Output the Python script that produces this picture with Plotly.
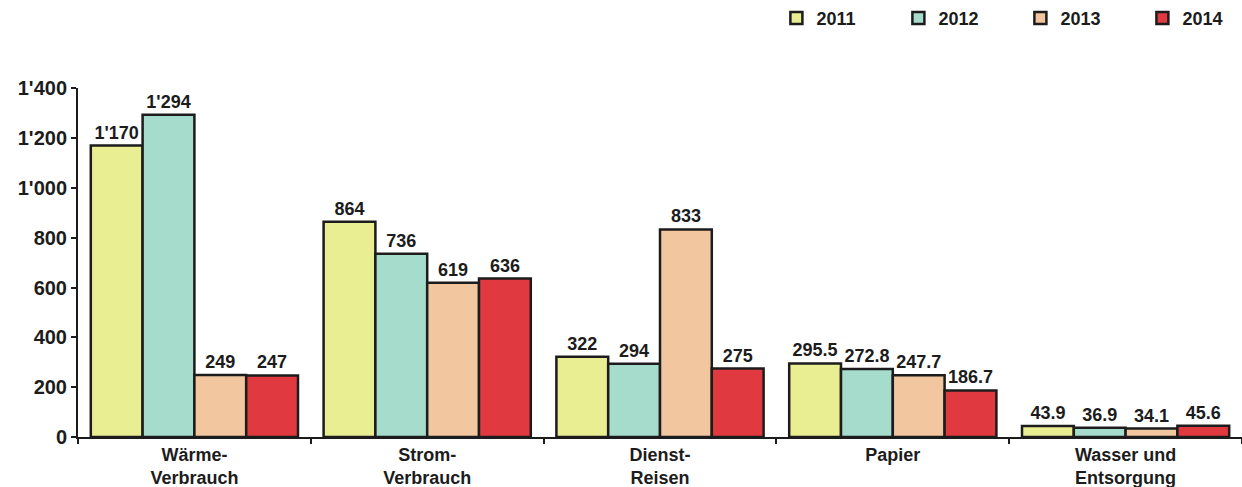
import plotly.graph_objects as go

categories = ["Wärme-<br>Verbrauch", "Strom-<br>Verbrauch", "Dienst-<br>Reisen", "Papier", "Wasser und<br>Entsorgung"]
years = ["2011", "2012", "2013", "2014"]
v2011 = [1170, 864, 322, 295.5, 43.9]
v2012 = [1294, 736, 294, 272.8, 36.9]
v2013 = [249, 619, 833, 247.7, 34.1]
v2014 = [247, 636, 275, 186.7, 45.6]
series = [v2011, v2012, v2013, v2014]
colors = ["#E9EE93", "#A5DCCB", "#F2C79F", "#E03A40"]
y_ticks = [0, 200, 400, 600, 800, 1000, 1200, 1400]

FONT = "Liberation Sans"
DARK = "#1c1c1c"

fig = go.Figure()
for name, vals, col in zip(years, series, colors):
    fig.add_trace(go.Bar(
        name=name, x=categories, y=vals,
        marker=dict(color=col, line=dict(color=DARK, width=2.5)),
        texttemplate="%{y:,}", textposition="outside", cliponaxis=False,
        textfont=dict(family=FONT, size=18, color=DARK, weight="bold"),
    ))

fig.update_layout(
    width=1242, height=487,
    margin=dict(l=78, r=0, t=88, b=50, autoexpand=False),
    paper_bgcolor="white", plot_bgcolor="white",
    separators=".'",
    barmode="group", bargap=0.11, bargroupgap=0,
    font=dict(family=FONT, size=18, color=DARK, weight="bold"),
    showlegend=True,
    legend=dict(orientation="h", x=0.6, xanchor="left", y=1.2, yanchor="middle",
                entrywidth=77, entrywidthmode="pixels", itemwidth=30,
                font=dict(family=FONT, size=18, color=DARK, weight="bold"),
                traceorder="normal", bgcolor="rgba(0,0,0,0)"),
    xaxis=dict(showline=True, linecolor=DARK, linewidth=2, ticks="outside",
               tickson="boundaries", ticklen=5, tickcolor=DARK, tickwidth=1.5,
               showgrid=False, automargin=False,
               tickfont=dict(family=FONT, size=18, color=DARK, weight="bold")),
    yaxis=dict(range=[0, 1401], tickvals=y_ticks, showline=True, linecolor=DARK,
               linewidth=2, ticks="outside", ticklen=5, tickcolor=DARK, tickwidth=1.5,
               showgrid=False, zeroline=False, tickformat=",", automargin=False,
               tickfont=dict(family=FONT, size=20, color=DARK, weight="bold")),
)

fig.write_html("out.html")
